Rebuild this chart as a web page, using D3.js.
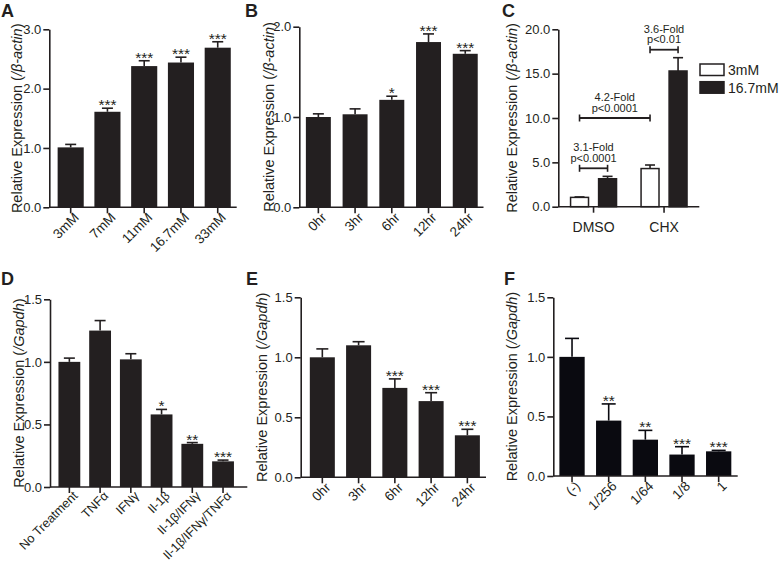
<!DOCTYPE html>
<html><head><meta charset="utf-8">
<script src="https://cdn.jsdelivr.net/npm/d3@7"></script>
<style>
body{margin:0;background:#fff}
svg{display:block}
text{font-family:"Liberation Sans",Arial,Helvetica,sans-serif;fill:#231f20}
</style>
</head><body>
<svg id="chart" width="781" height="565"></svg>
<script>
// ---------------- DATA ----------------
const aCategories = ["3mM","7mM","11mM","16.7mM","33mM"];
const aValues = [1.01, 1.61, 2.38, 2.44, 2.69];
const aErrors = [0.05, 0.06, 0.09, 0.09, 0.10];
const aStars = ["","***","***","***","***"];
const aTicks = [0,1,2,3];

const bCategories = ["0hr","3hr","6hr","12hr","24hr"];
const bValues = [1.00, 1.03, 1.19, 1.83, 1.70];
const bErrors = [0.035, 0.06, 0.04, 0.09, 0.035];
const bStars = ["","","*","***","***"];
const bTicks = [0,1,2];

const cGroups = ["DMSO","CHX"];
const cSeries = ["3mM","16.7mM"];
const c3mM = [1.05, 4.3];
const c3mMErr = [0.05, 0.4];
const c16mM = [3.15, 15.3];
const c16mMErr = [0.27, 1.5];
const cTicks = [0,5,10,15,20];
const cFoldLabels = ["3.1-Fold","4.2-Fold","3.6-Fold"];
const cPLabels = ["p<0.0001","p<0.0001","p<0.01"];
const cCompFrom = [["DMSO","3mM"],["DMSO","3mM"],["CHX","3mM"]];
const cCompTo = [["DMSO","16.7mM"],["CHX","3mM"],["CHX","16.7mM"]];
const cCompLevel = [4.33, 10.0, 17.7];

const dCategories = ["No Treatment","TNFα","IFNγ","Il-1β","Il-1β/IFNγ","Il-1β/IFNγ/TNFα"];
const dValues = [1.00, 1.25, 1.02, 0.58, 0.345, 0.205];
const dErrors = [0.03, 0.08, 0.045, 0.04, 0.01, 0.01];
const dStars = ["","","","*","**","***"];
const dTicks = [0,0.5,1,1.5];

const eCategories = ["0hr","3hr","6hr","12hr","24hr"];
const eValues = [1.00, 1.10, 0.745, 0.635, 0.35];
const eErrors = [0.07, 0.03, 0.075, 0.07, 0.05];
const eStars = ["","","***","***","***"];
const eTicks = [0,0.5,1,1.5];

const fCategories = ["(-)","1/256","1/64","1/8","1"];
const fValues = [1.00, 0.465, 0.305, 0.18, 0.207];
const fErrors = [0.155, 0.14, 0.078, 0.066, 0.008];
const fStars = ["","**","**","***","***"];
const fTicks = [0,0.5,1,1.5];

// ---------------- DRAW ----------------
const svg = d3.select("#chart");
svg.append("rect").attr("width",781).attr("height",565).attr("fill","#fff");
const INK = "#231f20";
const fmt = d3.format(".1f");
const FONT = '"Liberation Sans",Arial,sans-serif';

function yAxisAndTitle(g, y, ticks, o){
  const ax = g.append("g").attr("transform",`translate(${o.axisX},0)`)
    .call(d3.axisLeft(y).tickValues(ticks).tickFormat(fmt).tickSize(6).tickSizeOuter(0).tickPadding(2));
  ax.select(".domain").attr("stroke",INK).attr("stroke-width",1.6);
  ax.selectAll(".tick line").attr("stroke",INK).attr("stroke-width",1.6);
  ax.selectAll(".tick text").attr("font-size",13).attr("fill",INK).style("font-family",FONT);
  const t = g.append("text").attr("text-anchor","middle").attr("font-size",14.5)
    .attr("transform",`translate(${o.titleX},${(o.yTop+o.yBottom)/2}) rotate(-90)`);
  t.append("tspan").text("Relative Expression (");
  t.append("tspan").attr("font-style","italic").text(o.norm);
  t.append("tspan").text(")");
  g.append("text").attr("x",o.letterX).attr("y",o.letterY).attr("font-size",18)
    .attr("font-weight","bold").attr("fill","#000").text(o.letter);
}

function barPanel(o){
  const g = svg.append("g");
  const y = d3.scaleLinear().domain([0,o.yMax]).range([o.yBottom,o.yTop]);
  const x = d3.scaleBand().domain(o.categories).range([o.bandStart,o.bandEnd]).paddingInner(o.pad).paddingOuter(o.pad/2);
  const rows = o.categories.map((c,i)=>({c, v:o.values[i], e:o.errors[i], s:o.stars[i]}));
  g.selectAll("rect.bar").data(rows).join("rect").attr("class","bar")
    .attr("x",d=>x(d.c)).attr("width",x.bandwidth())
    .attr("y",d=>y(d.v)).attr("height",d=>y(0)-y(d.v)).attr("fill",o.fill);
  g.selectAll("line.err").data(rows).join("line").attr("class","err")
    .attr("x1",d=>x(d.c)+x.bandwidth()/2).attr("x2",d=>x(d.c)+x.bandwidth()/2)
    .attr("y1",d=>y(d.v)).attr("y2",d=>y(d.v+d.e)).attr("stroke",o.fill).attr("stroke-width",1.6);
  g.selectAll("line.cap").data(rows).join("line").attr("class","cap")
    .attr("x1",d=>x(d.c)+x.bandwidth()/2-o.cap).attr("x2",d=>x(d.c)+x.bandwidth()/2+o.cap)
    .attr("y1",d=>y(d.v+d.e)).attr("y2",d=>y(d.v+d.e)).attr("stroke",o.fill).attr("stroke-width",1.6);
  g.selectAll("text.star").data(rows).join("text").attr("class","star")
    .attr("x",d=>x(d.c)+x.bandwidth()/2).attr("y",d=>y(d.v+d.e)+2)
    .attr("text-anchor","middle").attr("font-size",15.5).attr("fill","#444").text(d=>d.s);
  const xa = g.append("g").attr("transform",`translate(0,${o.yBottom})`)
    .call(d3.axisBottom(x).tickSize(6).tickSizeOuter(0));
  xa.select(".domain").remove();
  xa.selectAll(".tick line").attr("stroke",INK).attr("stroke-width",1.6);
  xa.selectAll(".tick text").attr("x",0).attr("y",0).attr("dy",0)
    .attr("text-anchor","end").attr("font-size",o.xFont).attr("fill",INK)
    .style("font-family",FONT)
    .attr("transform",`translate(9,${o.xLabOff}) rotate(-45)`);
  g.append("line").attr("x1",o.axisX).attr("x2",o.axisEnd).attr("y1",o.yBottom).attr("y2",o.yBottom)
    .attr("stroke",INK).attr("stroke-width",1.6);
  yAxisAndTitle(g, y, o.ticks, o);
}

barPanel({categories:aCategories, values:aValues, errors:aErrors, stars:aStars, ticks:aTicks, yMax:3,
  axisX:49.3, axisEnd:236.7, bandStart:52.3, bandEnd:236.1, yTop:29.3, yBottom:207.3, pad:0.29, cap:5.5,
  fill:INK, titleX:22, norm:"/β-actin", letter:"A", letterX:1, letterY:17, xFont:13.5, xLabOff:11});
barPanel({categories:bCategories, values:bValues, errors:bErrors, stars:bStars, ticks:bTicks, yMax:2,
  axisX:299.3, axisEnd:483.5, bandStart:300, bandEnd:483.6, yTop:26.7, yBottom:207.3, pad:0.32, cap:5.5,
  fill:INK, titleX:274, norm:"/β-actin", letter:"B", letterX:245, letterY:17, xFont:13.5, xLabOff:11});
barPanel({categories:dCategories, values:dValues, errors:dErrors, stars:dStars, ticks:dTicks, yMax:1.5,
  axisX:50, axisEnd:247.3, bandStart:54, bandEnd:238.4, yTop:299.3, yBottom:487, pad:0.29, cap:5.5,
  fill:INK, titleX:24, norm:"/Gapdh", letter:"D", letterX:1, letterY:285, xFont:12.6, xLabOff:9.5});
barPanel({categories:eCategories, values:eValues, errors:eErrors, stars:eStars, ticks:eTicks, yMax:1.5,
  axisX:300.7, axisEnd:486, bandStart:304.2, bandEnd:485.5, yTop:297.3, yBottom:477.3, pad:0.31, cap:6,
  fill:INK, titleX:267, norm:"/Gapdh", letter:"E", letterX:246, letterY:285, xFont:13.5, xLabOff:11});
barPanel({categories:fCategories, values:fValues, errors:fErrors, stars:fStars, ticks:fTicks, yMax:1.5,
  axisX:553.3, axisEnd:737.7, bandStart:553.7, bandEnd:737, pad:0.31, cap:7,
  yTop:297.3, yBottom:476, fill:"#0a0a10", titleX:517, norm:"/Gapdh", letter:"F", letterX:504, letterY:285, xFont:13.5, xLabOff:11});

// ---- Panel C (grouped) ----
(function(){
  const o = {axisX:558.3, axisEnd:699.3, yTop:29.3, yBottom:206.7, titleX:517, norm:"/β-actin", letter:"C", letterX:502, letterY:17};
  const g = svg.append("g");
  const y = d3.scaleLinear().domain([0,20]).range([o.yBottom,o.yTop]);
  const x0 = d3.scaleBand().domain(cGroups).range([o.axisX,o.axisEnd]).paddingInner(0.348).paddingOuter(0.174);
  const x1 = d3.scaleBand().domain(cSeries).range([0,x0.bandwidth()]).paddingInner(0.36);
  const vals = {"3mM":c3mM, "16.7mM":c16mM};
  const errs = {"3mM":c3mMErr, "16.7mM":c16mMErr};
  const fills = {"3mM":"#fff", "16.7mM":INK};
  const rows = [];
  cGroups.forEach((gname,i)=>cSeries.forEach(s=>rows.push({g:gname,s,v:vals[s][i],e:errs[s][i]})));
  const cx = (gname,s)=>x0(gname)+x1(s)+x1.bandwidth()/2;
  g.selectAll("line.err").data(rows).join("line")
    .attr("x1",d=>cx(d.g,d.s)).attr("x2",d=>cx(d.g,d.s)).attr("y1",d=>y(d.v)).attr("y2",d=>y(d.v+d.e))
    .attr("stroke",INK).attr("stroke-width",1.6);
  g.selectAll("line.cap").data(rows).join("line")
    .attr("x1",d=>cx(d.g,d.s)-5).attr("x2",d=>cx(d.g,d.s)+5).attr("y1",d=>y(d.v+d.e)).attr("y2",d=>y(d.v+d.e))
    .attr("stroke",INK).attr("stroke-width",1.6);
  g.selectAll("rect.bar").data(rows).join("rect")
    .attr("x",d=>x0(d.g)+x1(d.s)).attr("width",x1.bandwidth())
    .attr("y",d=>y(d.v)).attr("height",d=>y(0)-y(d.v))
    .attr("fill",d=>fills[d.s]).attr("stroke",INK).attr("stroke-width",1.5);
  const xa = g.append("g").attr("transform",`translate(0,${o.yBottom})`)
    .call(d3.axisBottom(x0).tickSize(6).tickSizeOuter(0));
  xa.select(".domain").remove();
  xa.selectAll(".tick line").attr("stroke",INK).attr("stroke-width",1.6);
  xa.selectAll(".tick text").attr("y",0).attr("dy",0).attr("transform","translate(0,25.5)")
    .attr("font-size",14).attr("fill",INK).style("font-family",FONT);
  g.append("line").attr("x1",o.axisX).attr("x2",o.axisEnd).attr("y1",o.yBottom).attr("y2",o.yBottom)
    .attr("stroke",INK).attr("stroke-width",1.6);
  yAxisAndTitle(g, y, cTicks, o);
  cFoldLabels.forEach((lab,i)=>{
    const xa1 = cx(cCompFrom[i][0],cCompFrom[i][1]);
    const xa2 = cx(cCompTo[i][0],cCompTo[i][1]);
    const yy = y(cCompLevel[i]);
    g.append("line").attr("x1",xa1).attr("x2",xa2).attr("y1",yy).attr("y2",yy).attr("stroke",INK).attr("stroke-width",1.8);
    [xa1,xa2].forEach(xx=>g.append("line").attr("x1",xx).attr("x2",xx).attr("y1",yy-3.5).attr("y2",yy+3.5).attr("stroke",INK).attr("stroke-width",1.6));
    const mx = (xa1+xa2)/2;
    g.append("text").attr("x",mx).attr("y",yy-17).attr("text-anchor","middle").attr("font-size",11).text(lab);
    g.append("text").attr("x",mx).attr("y",yy-6.5).attr("text-anchor","middle").attr("font-size",11).text(cPLabels[i]);
  });
  const lg = g.append("g");
  cSeries.forEach((s,i)=>{
    lg.append("rect").attr("x",700).attr("y",64+i*17.7).attr("width",24).attr("height",11.5)
      .attr("fill",fills[s]).attr("stroke",INK).attr("stroke-width",1.5);
    lg.append("text").attr("x",728).attr("y",75+i*17.7).attr("font-size",14).text(s);
  });
})();
</script>
</body></html>
